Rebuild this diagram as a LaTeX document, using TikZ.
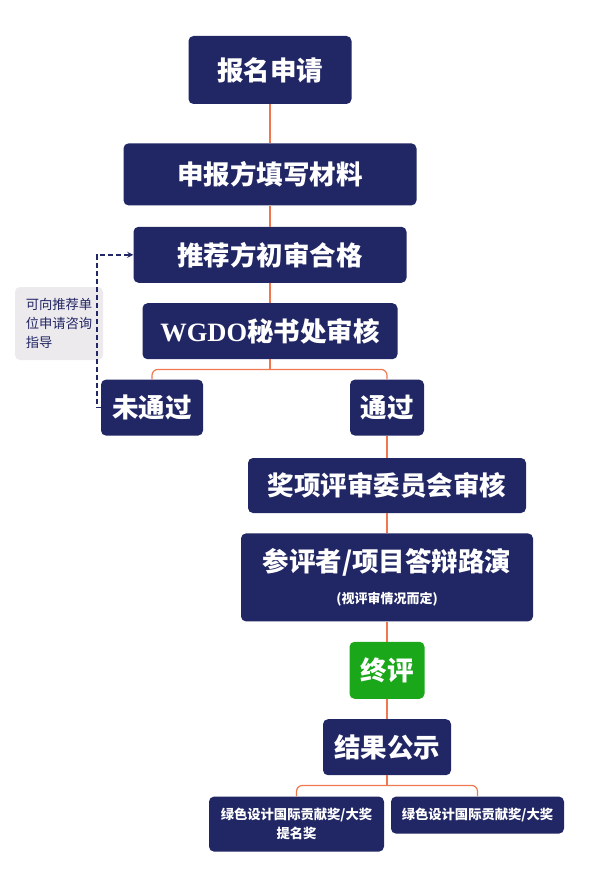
\documentclass[tikz,border=0pt]{standalone}
\usepackage{fontspec}
\usepackage{xcolor}
\usetikzlibrary{arrows,positioning}
\newfontfamily\cjk{Noto Sans CJK SC}
\newfontfamily\wgdofont{Liberation Serif}
\definecolor{navy}{RGB}{33,38,100}
\definecolor{leafgreen}{RGB}{26,168,26}
\definecolor{linkorange}{RGB}{240,120,80}
\definecolor{notegray}{RGB}{237,234,237}

\begin{document}
\begin{tikzpicture}[x=1pt, y=1pt, node distance=20pt, every node/.style={font=\cjk}]

    % Styles for the steps
    \tikzset{
        stepbox/.style={fill=navy, rounded corners=5pt, text=white, inner sep=0pt, align=center, font=\cjk\bfseries\fontsize{26.5}{30}\selectfont},
        prizebox/.style={fill=navy, rounded corners=5pt, text=white, inner sep=0pt, align=center, font=\cjk\bfseries\fontsize{13.3}{19}\selectfont},
        notebox/.style={fill=notegray, rounded corners=5pt, text=navy, inner sep=0pt, align=left, font=\cjk\fontsize{13.3}{19}\selectfont},
        link/.style={draw=linkorange, line width=1.2pt},
        hint/.style={->, >=stealth, dashed, dash pattern=on 5pt off 3pt, draw=navy, line width=1.7pt}
    }

    \useasboundingbox (0,0) rectangle (589,-885);

    % Main flow
    \node[stepbox, minimum width=163pt, minimum height=68pt] (apply) at (270,-70) {报名申请};
    \node[stepbox, minimum width=293pt, minimum height=62pt, below=39pt of apply] (fillin) {申报方填写材料};
    \node[stepbox, minimum width=273pt, minimum height=56pt, below=21pt of fillin] (vet) {推荐方初审合格};
    \node[stepbox, minimum width=255pt, minimum height=56pt, below=of vet] (review) {{\wgdofont WGDO}秘书处审核};
    \coordinate[below=10pt of review.south] (split);

    \node[stepbox, minimum width=102pt, minimum height=56pt, below=of review, xshift=-118pt] (fail) {未通过};
    \node[stepbox, minimum width=74pt, minimum height=56pt, below=of review, xshift=117pt] (pass) {通过};

    \node[stepbox, minimum width=278pt, minimum height=55pt, below=22pt of pass] (jury) {奖项评审委员会审核};
    \node[stepbox, minimum width=292pt, minimum height=88pt, below=of jury] (pitch) {参评者/项目答辩路演\\[2pt]{\fontsize{13}{14}\selectfont (视评审情况而定)}};
    \node[stepbox, fill=leafgreen, minimum width=75pt, minimum height=57pt, below=of pitch] (final) {终评};
    \node[stepbox, minimum width=128pt, minimum height=56pt, below=of final] (result) {结果公示};
    \coordinate[below=10pt of result.south] (split2);

    % Awards
    \node[prizebox, minimum width=175pt, minimum height=55pt, below=21pt of result, xshift=-90.5pt] (nominee) {绿色设计国际贡献奖/大奖\\提名奖};
    \node[prizebox, minimum width=173pt, minimum height=37pt, below=21pt of result, xshift=90.5pt] (winner) {绿色设计国际贡献奖/大奖};

    % Side note
    \node[notebox, minimum width=88pt, minimum height=73pt] (tip) at (59,-323.5) {可向推荐单\\位申请咨询\\指导};

    % Connectors
    \draw[link] (apply.south) -- (fillin.north);
    \draw[link] (fillin.south) -- (vet.north);
    \draw[link] (vet.south) -- (review.north);
    \draw[link] (review.south) -- (split);
    \draw[link, rounded corners=6pt] (split) -| (fail.north);
    \draw[link, rounded corners=6pt] (split) -| (pass.north);
    \draw[link] (pass.south) -- (jury.north);
    \draw[link] (jury.south) -- (pitch.north);
    \draw[link] (pitch.south) -- (final.north);
    \draw[link] (final.south) -- (result.north);
    \draw[link] (result.south) -- (split2);
    \draw[link, rounded corners=6pt] (split2) -| (nominee.north);
    \draw[link, rounded corners=6pt] (split2) -| (winner.north);

    \draw[hint] (fail.west) -- ++(-4,0) |- (vet.west);

\end{tikzpicture}
\end{document}
